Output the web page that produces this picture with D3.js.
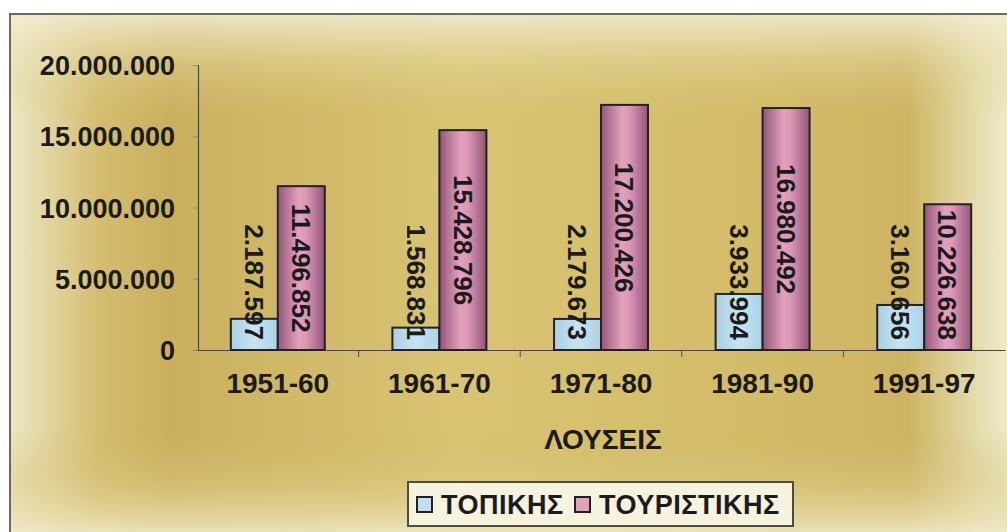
<!DOCTYPE html>
<html>
<head>
<meta charset="UTF-8">
<title></title>
<script src="https://cdn.jsdelivr.net/npm/d3@7"></script>
<style>
  body { margin: 0; background: #fff; }
  text { font-family: "Liberation Sans", Arial, sans-serif; font-weight: bold; fill: #1b1b1b; }
</style>
</head>
<body>
<svg width="1007" height="532"></svg>
<script>
// data
var periods = ["1951-60", "1961-70", "1971-80", "1981-90", "1991-97"];
var topikis = [2187597, 1568831, 2179673, 3933994, 3160656];
var touristikis = [11496852, 15428796, 17200426, 16980492, 10226638];
var yTicks = [0, 5000000, 10000000, 15000000, 20000000];
var seriesNames = ["ΤΟΠΙΚΗΣ", "ΤΟΥΡΙΣΤΙΚΗΣ"];
var xTitle = "ΛΟΥΣΕΙΣ";

var width = 1007, height = 532;
var svg = d3.select("svg");
var defs = svg.append("defs");

var loc = d3.formatLocale({decimal: ",", thousands: ".", grouping: [3], currency: ["", ""]});
var fmt = loc.format(",d");

// gradients
function grad(id, stops, x2, y2) {
  var g = defs.append("linearGradient").attr("id", id)
    .attr("x1", 0).attr("y1", 0).attr("x2", x2).attr("y2", y2);
  stops.forEach(function(s) {
    g.append("stop").attr("offset", s[0]).attr("stop-color", s[1]).attr("stop-opacity", s[2] == null ? 1 : s[2]);
  });
}
grad("bgH", [[0, "#ece7c4"], [0.09, "#d3bd6f"], [0.16, "#cab05e"], [0.45, "#d8c473"], [0.75, "#d2bc68"], [0.9, "#cdb462"], [0.97, "#e5ddae"], [1, "#ede9c8"]], 1, 0);
grad("bgV", [[0, "#f3eed4", 0.85], [0.1, "#e8dfae", 0.35], [0.2, "#dcc77e", 0], [0.8, "#cdb462", 0], [0.9, "#dccb86", 0.4], [1, "#eee9c6", 0.85]], 0, 1);
grad("pinkG", [[0, "#94577a"], [0.45, "#e2a1bd"], [0.6, "#dc97b4"], [1, "#93557a"]], 1, 0);
grad("blueG", [[0, "#a9cfe3"], [0.5, "#c4e4f4"], [1, "#acd2e6"]], 1, 0);

// frame + background
svg.append("rect").attr("x", 10).attr("y", 14).attr("width", width - 10).attr("height", height - 14)
  .attr("fill", "url(#bgH)");
svg.append("rect").attr("x", 10).attr("y", 14).attr("width", width - 10).attr("height", height - 14)
  .attr("fill", "url(#bgV)");
svg.append("path").attr("d", "M10," + height + "V14H" + width)
  .attr("fill", "none").attr("stroke", "#6d6a62").attr("stroke-width", 2);

// scales
var x0 = d3.scaleBand().domain(periods).range([197, 1005]).paddingInner(0).paddingOuter(0);
var x1 = d3.scaleBand().domain([0, 1]).range([0, x0.bandwidth()]).paddingInner(0).paddingOuter(0.72);
var y = d3.scaleLinear().domain([0, 20000000]).range([350, 65]);

// y axis
var yAxis = svg.append("g").attr("transform", "translate(198,0)")
  .call(d3.axisLeft(y).tickValues(yTicks).tickSize(5).tickPadding(18).tickFormat(fmt));
yAxis.select(".domain").attr("stroke", "#4a4a44").attr("stroke-width", 1.2);
yAxis.selectAll(".tick line").attr("stroke", "#9a8a50");
yAxis.selectAll("text").style("font-size", "27px").attr("dy", "0.36em").attr("fill", "#1b1b1b");

// x axis
var xAxis = svg.append("g").attr("transform", "translate(0,350)")
  .call(d3.axisBottom(x0).tickSize(0).tickPadding(23));
xAxis.select(".domain").attr("stroke", "#4a4a44").attr("stroke-width", 1.2);
xAxis.selectAll("text").style("font-size", "28px").attr("fill", "#1b1b1b");
svg.append("g").selectAll("line").data(periods.slice(1)).enter().append("line")
  .attr("x1", function(d) { return x0(d); }).attr("x2", function(d) { return x0(d); })
  .attr("y1", 350).attr("y2", 357).attr("stroke", "#4a4a44");

// bars
var rows = periods.map(function(p, i) { return {p: p, v: [topikis[i], touristikis[i]]}; });
var fills = ["url(#blueG)", "url(#pinkG)"];
var groups = svg.append("g").selectAll("g").data(rows).enter().append("g")
  .attr("transform", function(d) { return "translate(" + x0(d.p) + ",0)"; });
groups.selectAll("rect").data(function(d) { return d.v; }).enter().append("rect")
  .attr("x", function(d, i) { return x1(i); })
  .attr("width", x1.bandwidth())
  .attr("y", function(d) { return y(d); })
  .attr("height", function(d) { return y(0) - y(d); })
  .attr("fill", function(d, i) { return fills[i]; })
  .attr("stroke", "#222").attr("stroke-width", 2);

// value labels, rotated
groups.selectAll("text.val").data(function(d) { return d.v; }).enter().append("text")
  .attr("class", "val")
  .style("font-size", "26px").style("font-weight", "bold")
  .attr("text-anchor", "middle").attr("dy", "0.36em")
  .text(function(d) { return fmt(d); })
  .attr("transform", function(d, i) {
    var len = this.getComputedTextLength();
    var cy = (y(d) + y(0)) / 2;
    cy = Math.min(cy, y(0) - 10 - len / 2);
    return "translate(" + (x1(i) + x1.bandwidth() / 2) + "," + cy + ") rotate(90)";
  });

// axis title
svg.append("text").attr("x", (x0.range()[0] + x0.range()[1]) / 2 + 2).attr("y", 449)
  .attr("text-anchor", "middle").style("font-size", "28px").text(xTitle);

// legend
var lg = svg.append("g").attr("transform", "translate(408,482)");
lg.append("rect").attr("width", 385).attr("height", 44)
  .attr("fill", "#f5f2de").attr("stroke", "#4d4b45").attr("stroke-width", 2);
var legendX = [9, 167];
var items = lg.selectAll("g").data(seriesNames).enter().append("g")
  .attr("transform", function(d, i) { return "translate(" + legendX[i] + ",0)"; });
items.append("rect").attr("x", 0).attr("y", 15).attr("width", 15).attr("height", 15)
  .attr("fill", function(d, i) { return i ? "#e0a3bd" : "#bfe0f1"; })
  .attr("stroke", "#222").attr("stroke-width", 2);
items.append("text").attr("x", 24).attr("y", 32).style("font-size", "27px")
  .style("letter-spacing", "0.5px").text(function(d) { return d; });
</script>
</body>
</html>
